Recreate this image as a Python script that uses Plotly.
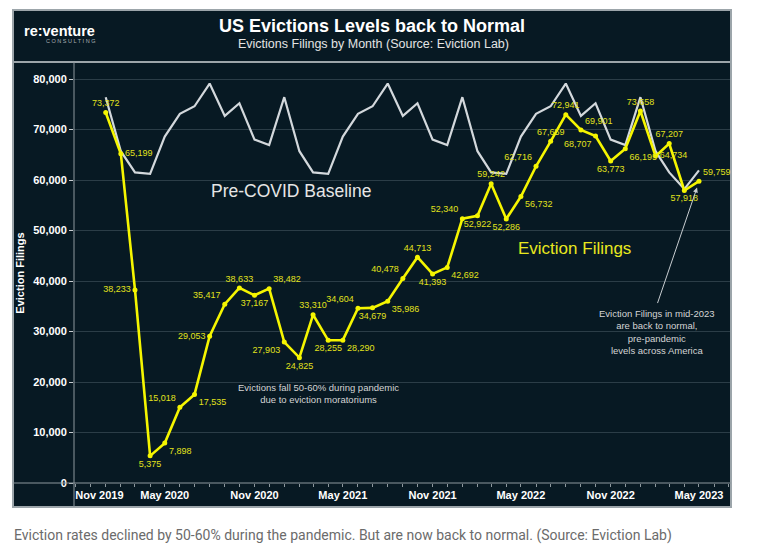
import plotly.graph_objects as go

# ---------------- data ----------------
months = [
    "2020-01-01", "2020-02-01", "2020-03-01", "2020-04-01", "2020-05-01", "2020-06-01",
    "2020-07-01", "2020-08-01", "2020-09-01", "2020-10-01", "2020-11-01", "2020-12-01",
    "2021-01-01", "2021-02-01", "2021-03-01", "2021-04-01", "2021-05-01", "2021-06-01",
    "2021-07-01", "2021-08-01", "2021-09-01", "2021-10-01", "2021-11-01", "2021-12-01",
    "2022-01-01", "2022-02-01", "2022-03-01", "2022-04-01", "2022-05-01", "2022-06-01",
    "2022-07-01", "2022-08-01", "2022-09-01", "2022-10-01", "2022-11-01", "2022-12-01",
    "2023-01-01", "2023-02-01", "2023-03-01", "2023-04-01", "2023-05-01",
]

eviction_filings = [
    73372, 65199, 38233, 5375, 7898, 15018, 17535, 29053, 35417, 38633, 37167, 38482,
    27903, 24825, 33310, 28255, 28290, 34604, 34679, 35986, 40478, 44713, 41393, 42692,
    52340, 52922, 59242, 52286, 56732, 62716, 67659, 72941, 69901, 68707, 63773, 66195,
    73658, 64734, 67207, 57918, 59759,
]

pre_covid_baseline = [
    76400, 65700, 61500, 61200, 68600, 73100, 74600, 79100, 72700, 75200, 68000, 66900,
    76400, 65700, 61500, 61200, 68600, 73100, 74600, 79100, 72700, 75200, 68000, 66900,
    76400, 65700, 61500, 61200, 68600, 73100, 74600, 79100, 72700, 75200, 68000, 66900,
    76400, 65700, 61500, 58200, 61900,
]

label_positions = [
    "top center", "middle right", "middle left", "bottom center", "bottom right", "top left",
    "bottom right", "middle left", "top left", "top center", "bottom center", "top right",
    "bottom left", "bottom center", "top center", "bottom center", "bottom right", "top left",
    "bottom center", "bottom right", "top left", "top center", "bottom center", "bottom right",
    "top left", "bottom center", "top center", "bottom center", "bottom right", "top left",
    "top center", "top center", "top right", "bottom left", "bottom center", "bottom right",
    "top center", "middle right", "top center", "bottom center", "top right",
]

x_tick_vals = ["2019-12-19", "2020-05-01", "2020-11-01", "2021-05-01",
               "2021-11-01", "2022-05-01", "2022-11-01", "2023-05-01"]
x_tick_text = ["Nov 2019", "May 2020", "Nov 2020", "May 2021",
               "Nov 2021", "May 2022", "Nov 2022", "May 2023"]
y_tick_vals = [0, 10000, 20000, 30000, 40000, 50000, 60000, 70000, 80000]

# ---------------- layout geometry (page pixels) ----------------
FIG_W, FIG_H = 764, 554
PAGE_OFF = 8  # default body margin of the html page
L, R, T, B = 74, 730, 63, 483
W, H = R - L, B - T


def px(x):
    return (x - L) / W


def py(y):
    return (B - y) / H


BG = "#071923"
FRAME = "#9ca5aa"
DIV = "#8d989e"
YELLOW = "#f5f500"
YELLOW_TXT = "#e2e21c"
GRAY_LINE = "#d3d8dc"
FONT = "Liberation Sans, Arial, sans-serif"

fig = go.Figure()

fig.add_trace(go.Scatter(
    x=months, y=pre_covid_baseline, mode="lines",
    line=dict(color=GRAY_LINE, width=2.2),
    hoverinfo="skip", showlegend=False,
))

fig.add_trace(go.Scatter(
    x=months, y=eviction_filings, mode="lines+markers+text",
    line=dict(color=YELLOW, width=2.6),
    marker=dict(color=YELLOW, size=5),
    text=[f"{v:,}" for v in eviction_filings],
    textposition=label_positions,
    textfont=dict(family=FONT, size=9, color=YELLOW_TXT),
    cliponaxis=False, showlegend=False,
))

shapes = [
    dict(type="rect", xref="paper", yref="paper",
         x0=px(13), x1=px(731), y0=py(507), y1=py(10),
         fillcolor=BG, line=dict(color=FRAME, width=2), layer="below"),
    dict(type="line", xref="paper", yref="paper",
         x0=px(13), x1=px(731), y0=py(62), y1=py(62),
         line=dict(color=FRAME, width=2), layer="above"),
    dict(type="line", xref="paper", yref="paper",
         x0=px(74), x1=px(74), y0=py(62), y1=py(507),
         line=dict(color=DIV, width=1), layer="above"),
    dict(type="line", xref="paper", yref="paper",
         x0=px(13), x1=px(731), y0=py(483), y1=py(483),
         line=dict(color=DIV, width=1), layer="above"),
]

annotations = [
    dict(text="<b>re:venture</b>", x=px(97), y=py(31), xref="paper", yref="paper",
         xanchor="right", yanchor="middle", showarrow=False,
         font=dict(family=FONT, size=14.5, color="#ffffff")),
    dict(text="C O N S U L T I N G", x=px(97), y=py(41.5), xref="paper", yref="paper",
         xanchor="right", yanchor="middle", showarrow=False,
         font=dict(family=FONT, size=5.5, color="#a8b0b5")),
    dict(text="<b>US Evictions Levels back to Normal</b>", x=px(372), y=py(26),
         xref="paper", yref="paper", xanchor="center", yanchor="middle", showarrow=False,
         font=dict(family=FONT, size=18, color="#ffffff")),
    dict(text="Evictions Filings by Month (Source: Eviction Lab)", x=px(373), y=py(44),
         xref="paper", yref="paper", xanchor="center", yanchor="middle", showarrow=False,
         font=dict(family=FONT, size=12.5, color="#e4e4e4")),
    dict(text="Pre-COVID Baseline", x=px(291), y=py(191), xref="paper", yref="paper",
         xanchor="center", yanchor="middle", showarrow=False,
         font=dict(family=FONT, size=17.5, color="#e6e6e6")),
    dict(text="Eviction Filings", x=px(574.5), y=py(248), xref="paper", yref="paper",
         xanchor="center", yanchor="middle", showarrow=False,
         font=dict(family=FONT, size=17, color="#e8e81e")),
    dict(text="Evictions fall 50-60% during pandemic<br>due to eviction moratoriums",
         x=px(318), y=py(393), xref="paper", yref="paper",
         xanchor="center", yanchor="middle", showarrow=False, align="center",
         font=dict(family=FONT, size=9.5, color="#d4d4d4")),
    dict(text="Eviction Filings in mid-2023<br>are back to normal,<br>pre-pandemic<br>levels across America",
         x=px(657), y=py(332), xref="paper", yref="paper",
         xanchor="center", yanchor="middle", showarrow=False, align="center",
         font=dict(family=FONT, size=9.5, color="#d4d4d4")),
    dict(text="", x="2023-04-27", y=58500, xref="x", yref="y",
         ax=-40, ay=117, axref="pixel", ayref="pixel", showarrow=True,
         arrowhead=2, arrowsize=1, arrowwidth=1, arrowcolor="#c8cdd1"),
    dict(text="Eviction rates declined by 50-60% during the pandemic. But are now back to normal. (Source: Eviction Lab)",
         x=px(12), y=py(535), xref="paper", yref="paper",
         xanchor="left", yanchor="middle", showarrow=False,
         font=dict(family="Roboto, sans-serif", size=14, color="#6b6b6b")),
]

fig.update_layout(
    width=FIG_W, height=FIG_H,
    margin=dict(l=L - PAGE_OFF, r=FIG_W - (R - PAGE_OFF), t=T - PAGE_OFF,
                b=FIG_H - (B - PAGE_OFF), autoexpand=False),
    paper_bgcolor="#ffffff",
    plot_bgcolor=BG,
    shapes=shapes,
    annotations=annotations,
    showlegend=False,
    xaxis=dict(
        type="date",
        range=["2019-10-28", "2023-07-03 14:00"],
        tickmode="array", tickvals=x_tick_vals, ticktext=x_tick_text,
        ticks="", showgrid=False, zeroline=False, showline=False,
        tickfont=dict(family=FONT, size=11, color="#ffffff", weight="bold"),
        ticklabelstandoff=4,
        minor=dict(dtick="M1", tick0="2019-11-01", ticks="outside", ticklen=3,
                   tickcolor=DIV, showgrid=False),
        automargin=False,
    ),
    yaxis=dict(
        range=[0, 83168],
        tickmode="array", tickvals=y_tick_vals, tickformat=",",
        ticks="outside", ticklen=4, tickcolor="#c8cdd1",
        showgrid=True, gridcolor="#2b3d47", gridwidth=1,
        zeroline=False, showline=False,
        tickfont=dict(family=FONT, size=11, color="#ffffff", weight="bold"),
        title=dict(text="Eviction Filings", standoff=6,
                   font=dict(family=FONT, size=11, color="#ffffff", weight="bold")),
        automargin=False,
    ),
)

fig.write_html("out.html")
